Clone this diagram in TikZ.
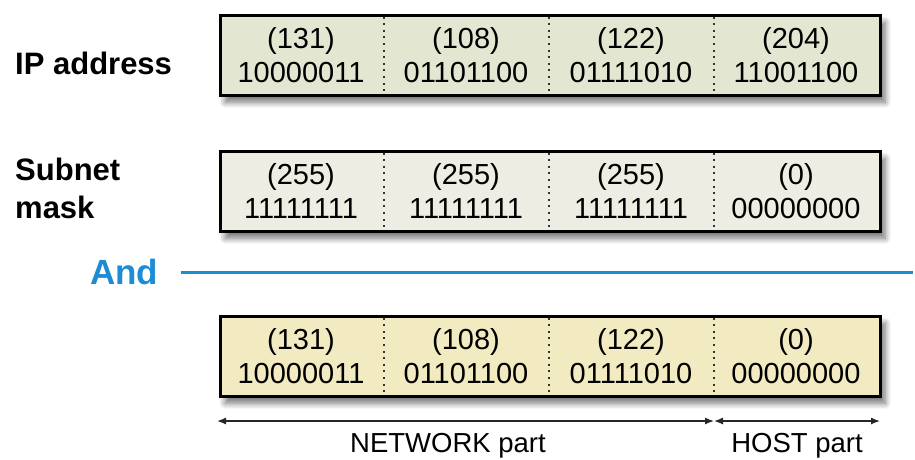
\documentclass[tikz,border=0pt]{standalone}
\usepackage{fontspec}
\setmainfont{Liberation Sans}
\usetikzlibrary{positioning,arrows.meta,calc,shadows.blur}
\definecolor{ipfill}{HTML}{E3E7D1}
\definecolor{maskfill}{HTML}{EDEDE3}
\definecolor{netfill}{HTML}{F2EAC0}
\definecolor{andblue}{HTML}{1C8CD3}

\tikzset{
  addrbox/.style={draw=black, line width=3.4pt, minimum width=660pt, minimum height=80pt,
    inner sep=0pt, anchor=north west,
    blur shadow={shadow xshift=5pt, shadow yshift=-7pt, shadow blur radius=6pt, shadow blur steps=10, shadow opacity=55}},
  octet/.style={font=\fontsize{29}{34}\selectfont, align=center, inner sep=0pt},
  octsep/.style={line width=2pt, dash pattern=on 2pt off 4.6pt, black!80},
  rowlabel/.style={font=\fontsize{31}{38}\selectfont\bfseries, anchor=west, align=left, inner sep=0pt},
  partarrow/.style={{Latex[length=9pt,width=7pt]}-{Latex[length=9pt,width=7pt]}, line width=1.3pt, black!85},
  partlabel/.style={font=\fontsize{27.5}{32}\selectfont, inner sep=0pt},
}

\begin{document}
\begin{tikzpicture}[x=1pt, y=-1pt]
  \useasboundingbox (0,0) rectangle (915,459);

  % Row labels
  \node[rowlabel] (iplabel) at (15,63) {IP address};
  \node[rowlabel] (masklabel) at (15,188) {Subnet\\mask};
  \node[rowlabel, text=andblue, font=\fontsize{35}{40}\selectfont\bfseries] (andlabel) at (90,272) {And};
  \coordinate (andstart) at (181,272);
  \coordinate (andend) at (913,272);
  \draw[andblue, line width=3pt] (andstart) -- (andend);

  % IP address
  \node[addrbox, fill=ipfill] (ip) at (218.5,13.5) {};
  \foreach \dec/\bin [count=\i] in {131/10000011, 108/01101100, 122/01111010, 204/11001100}
    \node[octet] (ip-\i) at ($(ip.west)+(165*\i-82.5,0)$) {(\dec)\\\bin};

  % Subnet mask
  \node[addrbox, fill=maskfill] (mask) at (218.5,149.5) {};
  \foreach \dec/\bin [count=\i] in {255/11111111, 255/11111111, 255/11111111, 0/00000000}
    \node[octet] (mask-\i) at ($(mask.west)+(165*\i-82.5,0)$) {(\dec)\\\bin};

  % Result
  \node[addrbox, fill=netfill] (net) at (218.5,314.5) {};
  \foreach \dec/\bin [count=\i] in {131/10000011, 108/01101100, 122/01111010, 0/00000000}
    \node[octet] (net-\i) at ($(net.west)+(165*\i-82.5,0)$) {(\dec)\\\bin};

  % Dotted octet borders
  \foreach \b in {ip, mask, net}
    \foreach \i in {1,2,3}
      \draw[octsep] ($(\b.north west)+(165*\i,3)$) -- ($(\b.south west)+(165*\i,-3)$);

  % Network / host parts
  \coordinate (netleft) at (217,421);
  \coordinate (split) at (714,421);
  \coordinate (hostright) at (880,421);
  \draw[partarrow] (netleft) -- (split);
  \draw[partarrow] (split) -- (hostright);
  \node[partlabel] (netpart) at (448,446) {NETWORK part};
  \node[partlabel] (hostpart) at ($(split)!0.5!(hostright)+(0,25)$) {HOST part};
\end{tikzpicture}
\end{document}
